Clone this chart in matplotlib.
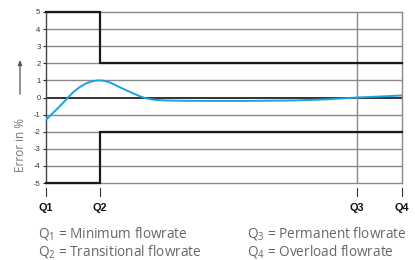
import matplotlib.pyplot as plt
from matplotlib.patches import FancyArrowPatch

plt.rcParams['font.family'] = ['Liberation Sans', 'DejaVu Sans']
plt.rcParams['mathtext.fontset'] = 'custom'
plt.rcParams['mathtext.rm'] = 'Open Sans'

# flowrate positions along the x axis
q_labels = ['Q1', 'Q2', 'Q3', 'Q4']
q_pos = [0, 54, 311, 356]

# measured error curve
curve_x = [0, 8, 16, 22, 28, 34, 40, 46, 52, 58, 64, 72, 80, 88, 94, 100, 108, 118,
           135, 160, 200, 250, 280, 300, 311, 335, 356]
curve_y = [-1.3, -0.85, -0.38, 0.0, 0.35, 0.62, 0.82, 0.95, 1.0, 0.98, 0.88, 0.65, 0.43,
           0.22, 0.07, -0.05, -0.13, -0.17, -0.19, -0.2, -0.2, -0.17, -0.11, -0.04, 0.0,
           0.06, 0.12]

# maximum permissible error limits
upper_x = [0, 54, 54, 356]
upper_y = [5, 5, 2, 2]
lower_x = [0, 54, 54, 356]
lower_y = [-5, -5, -2, -2]

legend_lines = [
    ('1', 'Minimum flowrate'),
    ('2', 'Transitional flowrate'),
    ('3', 'Permanent flowrate'),
    ('4', 'Overload flowrate'),
]

fig = plt.figure(figsize=(4.15, 2.6), dpi=100)
ax = fig.add_axes([46 / 415, 1 - 183 / 260, 356 / 415, 171 / 260])

ax.set_xlim(q_pos[0], q_pos[-1])
ax.set_ylim(-5, 5)

for v in range(-4, 5):
    if v == 0:
        ax.axhline(v, color='#222222', lw=1.3, zorder=1)
    else:
        ax.axhline(v, color='#8a8a8a', lw=1.0, zorder=1)
ax.axvline(q_pos[2], color='#8a8a8a', lw=1.0, zorder=1)

for s in ax.spines.values():
    s.set_color('#8a8a8a')
    s.set_linewidth(1.0)
ax.spines['left'].set_color('#444444')

ax.plot(upper_x, upper_y, color='#1a1a1a', lw=1.6, solid_joinstyle='miter', zorder=3, clip_on=False)
ax.plot(lower_x, lower_y, color='#1a1a1a', lw=1.6, solid_joinstyle='miter', zorder=3, clip_on=False)
ax.plot(curve_x, curve_y, color='#1ba1e2', lw=1.4, zorder=4, solid_capstyle='round')

ax.set_yticks(range(-5, 6))
ax.set_yticklabels([str(v) for v in range(-5, 6)], fontsize=5.5, color='#333333')
ax.tick_params(axis='y', length=2.5, width=0.8, color='#222222', pad=1.5)
ax.set_xticks([])

xtr = ax.get_xaxis_transform()
for lab, x in zip(q_labels, q_pos):
    ax.plot([x, x], [-0.03, -0.075], transform=xtr, color='#333333', lw=0.8, clip_on=False)
    ax.text(x, -0.146, lab, transform=xtr, ha='center', va='center',
            fontsize=7.8, fontweight='bold', color='#111111')

fig.text(21 / 415, 1 - 145 / 260, 'Error in %', rotation=90, ha='center', va='center',
         fontsize=8.5, color='#777777', family=['Open Sans', 'DejaVu Sans'])
fig.add_artist(FancyArrowPatch(
    (20 / 415, 1 - 97 / 260), (20 / 415, 1 - 57 / 260), transform=fig.transFigure,
    arrowstyle='-|>,head_length=3,head_width=1.2', color='#555555', lw=0.9))

cols = [38 / 415, 247 / 415]
rows = [1 - 234 / 260, 1 - 251 / 260]
for i, (sub, desc) in enumerate(legend_lines):
    fig.text(cols[i // 2], rows[i % 2], r'Q$_{\mathrm{%s}}$ = %s' % (sub, desc),
             ha='left', va='center', fontsize=9.8, color='#666666',
             family=['Open Sans', 'DejaVu Sans'])

fig.savefig('out.png', dpi=100)
